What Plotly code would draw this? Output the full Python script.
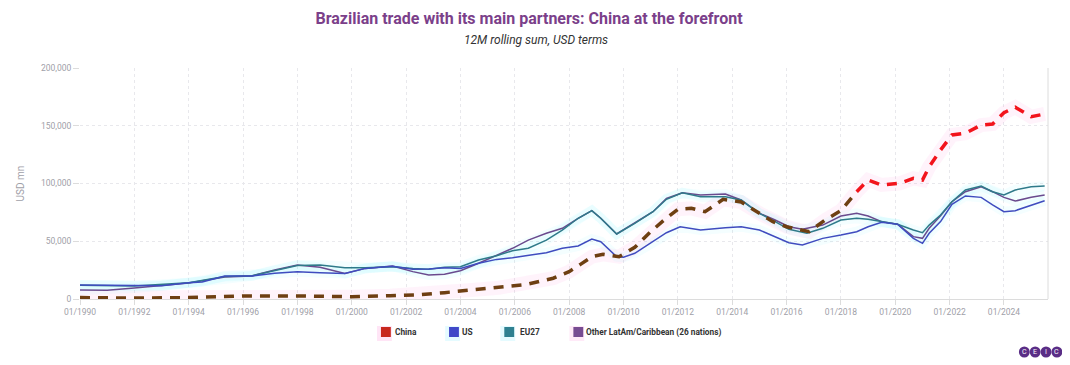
import plotly.graph_objects as go

# ---------------- data ----------------
us_dates = ["1990-01","1991-01","1992-01","1993-01","1994-01","1994-07","1995-05","1996-05","1997-03","1998-01",
            "1998-11","1999-10","2000-07","2001-07","2002-04","2002-11","2003-06","2004-01","2004-09","2005-05",
            "2005-12","2006-07","2007-03","2007-10","2008-05","2008-11","2009-03","2009-10","2010-01","2010-06",
            "2010-10","2011-02","2011-08","2012-02","2012-11","2013-10","2014-05","2015-01","2015-08","2016-02",
            "2016-08","2017-05","2018-01","2018-08","2019-01","2019-07","2020-02","2020-09","2021-01","2021-04",
            "2021-09","2022-02","2022-08","2023-03","2023-08","2024-01","2024-06","2025-01","2025-07"]
us_values = [12100,11800,11200,11500,14100,14800,19900,20000,22200,23600,
             22800,22000,26500,28300,25700,26000,27000,26500,30900,34300,
             35800,38100,40100,43900,45900,51900,49600,36600,36100,39600,
             44700,49600,57400,62600,59700,61700,62600,59700,54000,48700,
             46800,52500,55400,58300,62600,66500,64700,52500,48200,56900,
             67000,82000,89200,88000,81400,75600,76500,81400,85100]

eu_dates = ["1990-01","1992-01","1994-01","1995-05","1996-05","1997-03","1998-01","1998-11","1999-10","2000-07",
            "2001-07","2002-04","2002-11","2003-06","2004-01","2004-09","2005-05","2005-12","2006-07","2007-03",
            "2007-10","2008-05","2008-11","2009-03","2009-10","2010-06","2011-02","2011-08","2012-03","2012-11",
            "2013-10","2014-05","2015-01","2015-08","2016-02","2016-10","2017-05","2018-01","2018-08","2019-01",
            "2019-07","2020-02","2020-09","2021-01","2021-04","2021-09","2022-02","2022-08","2023-03","2023-08",
            "2024-01","2024-06","2025-01","2025-07"]
eu_values = [12000,11300,14000,19500,20200,24500,29000,29400,27100,27100,
             28000,26500,25700,27400,28000,33800,37500,41800,43900,51000,
             59700,69900,76500,69900,56300,65500,75600,86300,92000,88600,
             88600,85700,74200,67000,60300,56900,61200,68400,69900,69000,
             67000,64700,59700,57400,64000,72700,84200,94400,97800,92900,
             90000,94400,97200,97800]

latam_dates = ["1990-01","1991-01","1992-01","1993-01","1994-01","1995-05","1996-05","1997-03","1998-01","1998-11",
               "1999-10","2000-07","2001-07","2002-04","2002-11","2003-06","2004-01","2004-09","2005-05","2005-12",
               "2006-07","2007-03","2007-10","2008-05","2008-11","2009-03","2009-10","2010-06","2011-02","2011-08",
               "2012-03","2012-11","2013-10","2014-05","2015-01","2015-08","2016-02","2016-08","2017-05","2018-01",
               "2018-08","2019-01","2019-07","2020-02","2020-09","2021-01","2021-04","2021-09","2022-02","2022-08",
               "2023-03","2023-08","2024-01","2024-06","2025-01","2025-07"]
latam_values = [7800,7600,9500,11500,13800,19000,20000,25100,29400,27400,
                22200,26500,28500,23700,20800,21400,24500,30900,37500,43900,
                51000,56900,61200,69900,76500,69900,56300,66000,75600,87000,
                92000,90000,90900,85700,74200,68400,62600,60300,64000,71900,
                74200,71900,67000,64700,54000,52500,61200,72000,84200,92900,
                97200,92900,88000,84800,88000,90000]

china_dates = ["1990-01","1992-01","1994-01","1995-06","1996-01","1998-01","2000-01","2001-06","2002-06","2003-06",
               "2004-06","2005-06","2006-06","2007-06","2008-01","2008-06","2008-11","2009-04","2009-11","2010-06",
               "2011-01","2011-07","2012-01","2012-07","2013-01","2013-09","2014-05","2015-01","2015-07","2016-01",
               "2016-08","2016-11","2017-06","2018-01","2018-08","2019-01","2019-07","2020-03","2020-09","2021-01",
               "2021-04","2021-09","2022-02","2022-08","2023-03","2023-08","2024-01","2024-06","2025-01","2025-07"]
china_values = [1200,800,1200,1800,2700,2600,2000,2800,3500,5500,
                7800,9800,12500,18000,23700,30000,36600,38700,36600,44700,
                58300,68400,77700,78500,75600,86300,84000,74200,67000,62600,
                59100,58300,68400,76500,92900,103000,98700,100200,104500,103000,
                114500,129000,142000,143500,150600,151500,161300,166000,157800,160200]
china_split = "2018-08"   # colour changes from brown to red here

series_names = ["China", "US", "EU27", "Other LatAm/Caribbean (26 nations)"]

tick_years = list(range(1990, 2025, 2))
tick_labels = [f"01/{y}" for y in tick_years]

# ---------------- styles ----------------
C_US = "#3f4cbf"
C_EU = "#2f7a8a"
C_LA = "#6a4a8e"
C_CN_OLD = "#6e3f12"
C_CN_NEW = "#f2141c"

# page body has an 8px margin; figure geometry compensates
W, H = 1054, 357
ML, MR, MT, MB = 59, 14, 60, 66
PW = W - ML - MR
PH = H - MT - MB


def py(page_y):
    return (MT + PH - (page_y - 8)) / PH


def px(page_x):
    return (page_x - 8 - ML) / PW


fig = go.Figure()

# faint glow bands
fig.add_trace(go.Scatter(x=china_dates, y=china_values, mode="lines", line=dict(color="rgba(250,120,210,0.09)", width=14),
                         hoverinfo="skip", showlegend=False))
for d, v in [(us_dates, us_values), (eu_dates, eu_values), (latam_dates, latam_values)]:
    fig.add_trace(go.Scatter(x=d, y=v, mode="lines", line=dict(color="rgba(120,240,250,0.08)", width=10),
                             hoverinfo="skip", showlegend=False))

fig.add_trace(go.Scatter(x=latam_dates, y=latam_values, mode="lines", name=series_names[3],
                         line=dict(color=C_LA, width=1.5), showlegend=False))
fig.add_trace(go.Scatter(x=eu_dates, y=eu_values, mode="lines", name=series_names[2],
                         line=dict(color=C_EU, width=1.5), showlegend=False))
fig.add_trace(go.Scatter(x=us_dates, y=us_values, mode="lines", name=series_names[1],
                         line=dict(color=C_US, width=1.5), showlegend=False))

idx = china_dates.index(china_split)
fig.add_trace(go.Scatter(x=china_dates[:idx + 1], y=china_values[:idx + 1], mode="lines", name=series_names[0],
                         line=dict(color=C_CN_OLD, width=3.5, dash="10px,8px"), showlegend=False))
fig.add_trace(go.Scatter(x=china_dates[idx:], y=china_values[idx:], mode="lines", name=series_names[0],
                         line=dict(color=C_CN_NEW, width=3.5, dash="10px,8px"), showlegend=False))

fig.update_layout(
    width=W, height=H,
    margin=dict(l=ML, r=MR, t=MT, b=MB),
    paper_bgcolor="white", plot_bgcolor="white",
    font=dict(family="Roboto, sans-serif", color="#333"),
    title=dict(text="<b>Brazilian trade with its main partners: China at the forefront</b>",
               x=(529 - 8) / W, xanchor="center", y=1 - 10 / H, yanchor="middle",
               font=dict(size=16, color="#7b3f8a", family="Roboto, sans-serif")),
    showlegend=False,
    xaxis=dict(type="date", range=["1990-01-01", "2025-08-15"],
               tickvals=[f"{y}-01-01" for y in tick_years], ticktext=tick_labels,
               tickfont=dict(size=8.5, color="#a0a0a8"),
               showgrid=True, gridcolor="#e8e8ec", griddash="dot", gridwidth=1,
               showline=True, linecolor="#dcdcdc", linewidth=1,
               ticks="outside", ticklen=5, tickcolor="#dcdcdc", zeroline=False),
    yaxis=dict(range=[0, 200000], tickvals=[0, 50000, 100000, 150000, 200000],
               tickformat=",", tickfont=dict(size=8.5, color="#a0a0a8"),
               showgrid=True, gridcolor="#e8e8ec", griddash="dot", gridwidth=1,
               ticks="outside", ticklen=6, tickcolor="#dcdcdc",
               zeroline=False, showline=False,
               title=dict(text="USD mn", font=dict(size=10, color="#a0a0a8"), standoff=14)),
)

# right border line of plot area
fig.add_shape(type="line", xref="paper", yref="paper", x0=1, x1=1, y0=0, y1=1,
              line=dict(color="#dcdcdc", width=1))

# subtitle
fig.add_annotation(text="<i>12M rolling sum, USD terms</i>", xref="paper", yref="paper",
                   x=px(529), y=py(40), xanchor="center", yanchor="middle", showarrow=False,
                   font=dict(size=12, color="#333"))

# legend (drawn as squares + bold labels, compact spacing like the reference)
leg_cols = ["#c8281e", "#4048c8", "#2f8090", "#774c92"]
leg_glow = ["rgba(255,150,220,0.25)", "rgba(150,240,255,0.25)", "rgba(150,240,255,0.25)", "rgba(255,150,220,0.20)"]
leg_sq_x = [377, 446, 502, 572]
leg_txt_x = [386, 454, 513, 580]
LY = 332
for name, col, glow, sx, tx in zip(series_names, leg_cols, leg_glow, leg_sq_x, leg_txt_x):
    fig.add_shape(type="rect", xref="paper", yref="paper",
                  x0=px(sx - 9), x1=px(sx + 6), y0=py(LY + 9), y1=py(LY - 6),
                  fillcolor=glow, line=dict(width=0))
    fig.add_shape(type="rect", xref="paper", yref="paper",
                  x0=px(sx - 5), x1=px(sx + 5), y0=py(LY + 5), y1=py(LY - 5),
                  fillcolor=col, line=dict(width=0))
    fig.add_annotation(text=f"<b>{name}</b>", xref="paper", yref="paper", x=px(tx), y=py(LY),
                       xanchor="left", yanchor="middle", showarrow=False,
                       font=dict(size=8.3, color="#333"), xshift=-2)

# CEIC logo
for i, ch in enumerate("CEIC"):
    cx = 1024 + i * 11
    fig.add_shape(type="circle", xref="paper", yref="paper",
                  x0=px(cx - 5.5), x1=px(cx + 5.5), y0=py(357.5), y1=py(346.5),
                  fillcolor="#5a2d86", line=dict(width=0))
    fig.add_annotation(text=ch, xref="paper", yref="paper", x=px(cx), y=py(352),
                       showarrow=False, font=dict(size=7, color="white", family="Roboto"),
                       xanchor="center", yanchor="middle")

fig.write_html("out.html")
